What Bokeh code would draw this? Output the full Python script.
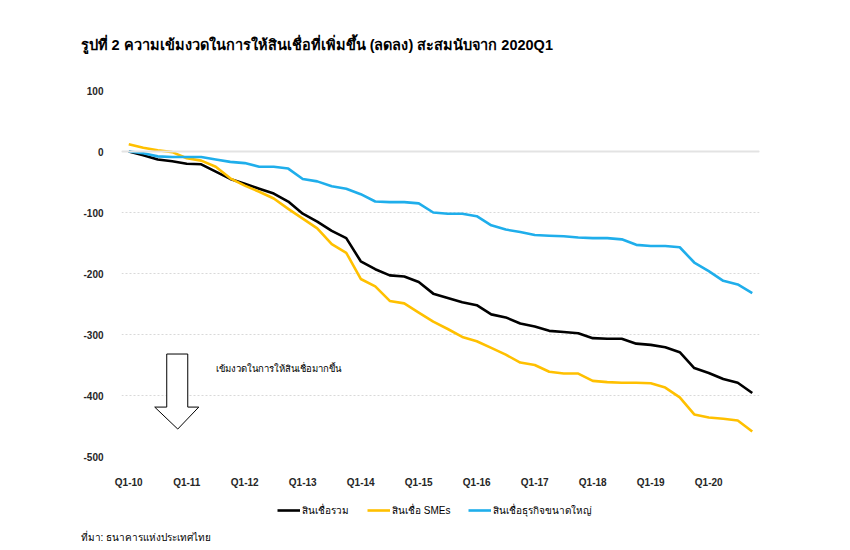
from bokeh.plotting import figure
from bokeh.layouts import column
from bokeh.models import Range1d, FixedTicker, Legend, LegendItem, Label, Span, Title
from bokeh.embed import file_html
from bokeh.resources import INLINE

# ---------------- data ----------------
quarters = [f"Q{q}-{y:02d}" for y in range(10, 21) for q in range(1, 5)]
total_credit = [0, -6, -13, -16, -20, -21, -33, -45, -53, -61, -69, -82, -102, -115, -130,
                -142, -180, -193, -203, -205, -214, -233, -240, -247, -252, -267, -272, -282,
                -287, -294, -296, -298, -306, -307, -307, -315, -317, -321, -329, -355, -363,
                -373, -379, -396]
sme_credit = [12, 6, 2, -1, -11, -15, -25, -44, -56, -66, -77, -94, -110, -126, -152, -166,
              -209, -221, -245, -249, -264, -279, -291, -304, -311, -322, -333, -346, -350,
              -361, -364, -364, -376, -378, -379, -379, -380, -387, -403, -431, -436, -438,
              -441, -459]
large_credit = [0, -3, -8, -9, -9, -9, -13, -17, -19, -25, -25, -28, -45, -49, -57, -61, -70,
                -82, -83, -83, -85, -100, -102, -102, -106, -121, -128, -132, -137, -138, -139,
                -141, -142, -142, -144, -153, -155, -155, -157, -182, -196, -212, -218, -232]
series_names = ["สินเชื่อรวม", "สินเชื่อ SMEs", "สินเชื่อธุรกิจขนาดใหญ่"]
series_colors = ["#000000", "#FFC000", "#1FAEEB"]
y_ticks = [-500, -400, -300, -200, -100, 0, 100]
title_text = "รูปที่ 2 ความเข้มงวดในการให้สินเชื่อที่เพิ่มขึ้น (ลดลง) สะสมนับจาก 2020Q1"
source_text = "ที่มา: ธนาคารแห่งประเทศไทย"
note_text = "เข้มงวดในการให้สินเชื่อมากขึ้น"

# block arrow annotation outline (data units)
arrow_x = [2.62, 4.07, 4.07, 4.83, 3.38, 1.79, 2.62]
arrow_y = [-332, -332, -419, -419, -455, -419, -419]

FONT = "Liberation Sans"
x = list(range(len(quarters)))
series = [total_credit, sme_credit, large_credit]

# ---------------- main chart ----------------
p = figure(width=834, height=490,
           x_range=Range1d(-0.5, len(quarters) - 0.5), y_range=Range1d(-500, 100),
           output_backend="svg", toolbar_location=None,
           min_border_left=121, min_border_right=75, min_border_top=90, min_border_bottom=28)
p.outline_line_color = None
p.background_fill_color = "white"
p.border_fill_color = "white"

p.title.text = title_text
p.title.align = "left"
p.title.vertical_align = "top"
p.title.offset = -41
p.title.standoff = 71
p.title.text_font = FONT
p.title.text_font_size = "14.5px"
p.title.text_font_style = "bold"
p.title.text_color = "#000000"

p.xgrid.visible = False
p.ygrid.grid_line_color = "#d9d9d9"
p.ygrid.grid_line_dash = "2 2"
p.ygrid.grid_line_width = 1
p.add_layout(Span(location=0, dimension="width", line_color="#e3e3e3", line_width=2))

p.xaxis.ticker = FixedTicker(ticks=[i for i in x if quarters[i].startswith("Q1")])
p.xaxis.major_label_overrides = {i: quarters[i] for i in x}
p.yaxis.ticker = FixedTicker(ticks=y_ticks)
p.yaxis.major_label_overrides = {v: str(v) for v in y_ticks}
for ax in (p.xaxis, p.yaxis):
    ax.axis_line_color = None
    ax.major_tick_line_color = None
    ax.minor_tick_line_color = None
    ax.major_label_text_font = FONT
    ax.major_label_text_color = "#262626"
    ax.major_label_text_font_style = "bold"
    ax.major_label_text_font_size = "10px"
p.xaxis.major_label_standoff = 14
p.yaxis.major_label_standoff = 12

for vals, col in zip(series, series_colors):
    p.line(x, vals, line_color=col, line_width=2.6, line_join="round")

p.patch(arrow_x, arrow_y, fill_color="white", line_color="#000000", line_width=1)
p.add_layout(Label(x=6.0, y=-356, text=note_text, text_font=FONT, text_font_size="9.5px",
                   text_color="#000000", text_baseline="middle"))

# ---------------- footer: legend + source ----------------
foot = figure(width=834, height=52, x_range=Range1d(-0.5, len(quarters) - 0.5),
              y_range=Range1d(-500, 100), output_backend="svg", toolbar_location=None,
              min_border=0, x_axis_location=None, y_axis_location=None)
foot.grid.visible = False
foot.outline_line_color = None
foot.background_fill_color = "white"
foot.border_fill_color = "white"

items = []
for name, vals, col in zip(series_names, series, series_colors):
    # legend key only: the series are drawn in the main chart above
    r = foot.line(x, vals, line_color=col, line_width=2.6, visible=False)
    items.append(LegendItem(label=name, renderers=[r]))
legend = Legend(items=items, orientation="horizontal", location=(156, 11),
                padding=0, margin=0, spacing=18, border_line_color=None,
                background_fill_alpha=0, inactive_fill_alpha=0,
                label_text_font=FONT, label_text_font_size="10px",
                label_text_color="#000000", glyph_width=23, glyph_height=16,
                label_height=16, label_standoff=2)
foot.add_layout(legend)

src = Title(text=source_text, align="left", vertical_align="bottom", offset=-41, standoff=0,
            text_font=FONT, text_font_size="10px", text_font_style="normal",
            text_color="#000000")
foot.add_layout(src, "below")

layout = column(p, foot, spacing=0)
open("out.html", "w").write(file_html(layout, INLINE))
